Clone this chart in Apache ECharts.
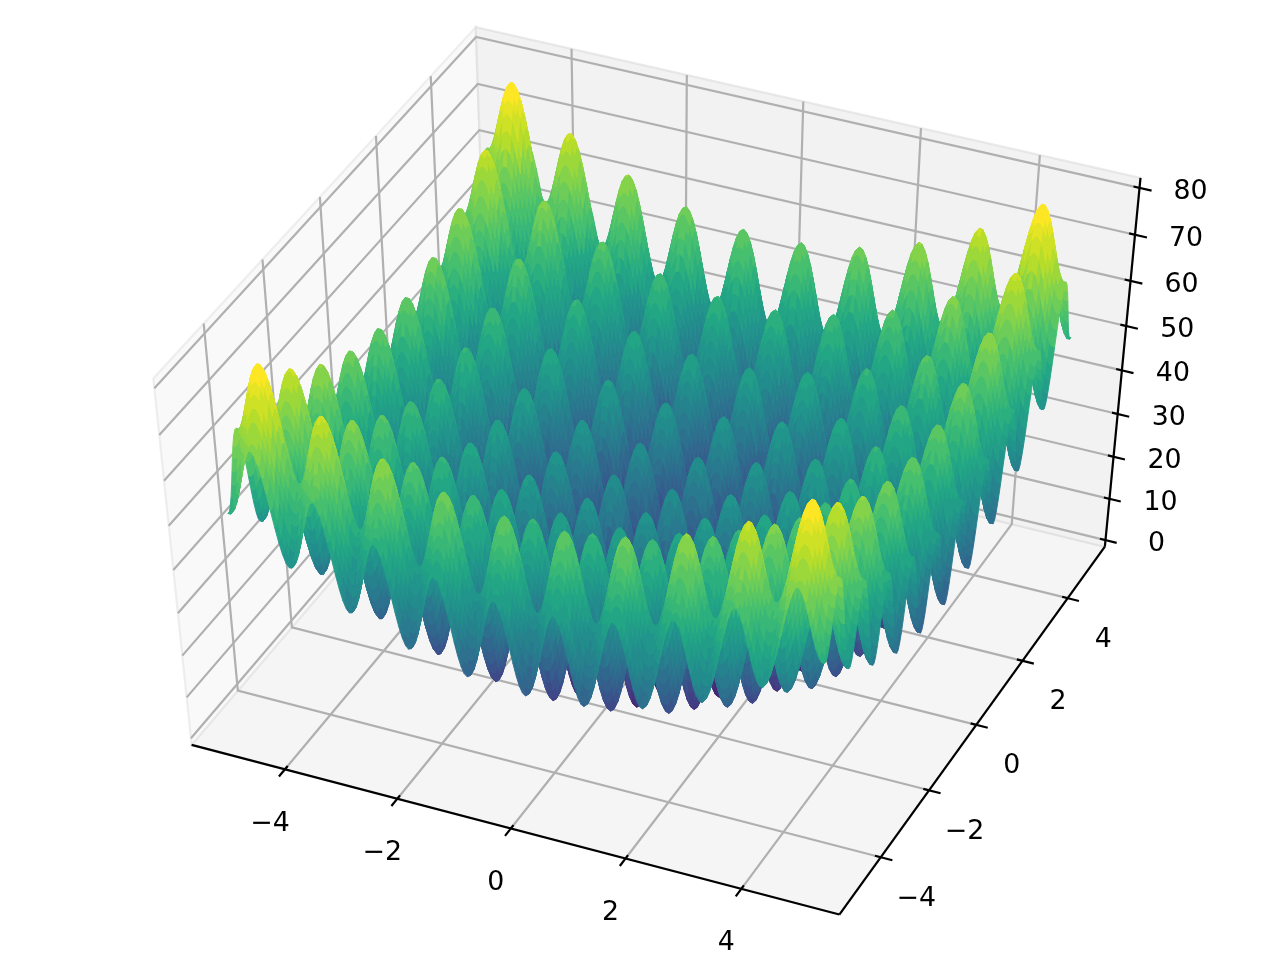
<!DOCTYPE html>
<html><head><meta charset="utf-8">
<style>html,body{margin:0;background:#fff}#c{width:1280px;height:960px}</style>
<script src="https://cdn.jsdelivr.net/npm/echarts@6/dist/echarts.min.js"></script></head>
<body><div id="c"></div>
<script>
const xTicks=[-4,-2,0,2,4], yTicks=[-4,-2,0,2,4], zTicks=[0,10,20,30,40,50,60,70,80];
// height contribution of one coordinate at |x| = 0, 0.05, ... 5.0 (hand-worked table; a surface height is the sum of two entries)
const profile=[0,.49,1.92,4.14,6.95,10.06,13.18,16,18.25,19.71,20.25,19.81,18.45,16.3,13.58,10.56,7.55,4.84,2.72,1.39,1,1.59,3.12,5.44,8.35,11.56,14.78,17.7,20.05,21.61,22.25,21.91,20.65,18.6,15.98,13.06,10.15,7.54,5.52,4.29,4,4.69,6.32,8.74,11.75,15.06,18.38,21.4,23.85,25.51,26.25,26.01,24.85,22.9,20.38,17.56,14.75,12.24,10.32,9.19,9,9.79,11.52,14.04,17.15,20.56,23.98,27.1,29.65,31.41,32.25,32.11,31.05,29.2,26.78,24.06,21.35,18.94,17.12,16.09,16,16.89,18.72,21.34,24.55,28.06,31.58,34.8,37.45,39.31,40.25,40.21,39.25,37.5,35.18,32.56,29.95,27.64,25.92,24.99,25];
const viridis=['#440154','#482475','#414487','#355f8d','#2a788e','#21918c','#22a884','#44bf70','#7ad151','#bddf26','#fde725'];
const colourBands=28;
const view={elev:47.338,azim:-65.975,L:5.677,zlo:-1.617,zhi:82.091,sx:6873.368,sy:5126.387,cx:656.117,cy:467.329,B:1.045,Bz:1.057,dist:10};

const {L,zlo,zhi}=view;
const P=(function(){const {elev,azim,sx,sy,cx,cy,B,Bz,dist}=view;const e=elev*Math.PI/180,a=azim*Math.PI/180;
 const n=[Math.cos(e)*Math.cos(a),Math.cos(e)*Math.sin(a),Math.sin(e)],u=[-Math.sin(a),Math.cos(a),0],v=[-Math.sin(e)*Math.cos(a),-Math.sin(e)*Math.sin(a),Math.cos(e)];
 return (x,y,z)=>{const d=[(x+L)/(2*L)*B-B/2-dist*n[0],(y+L)/(2*L)*B-B/2-dist*n[1],(z-zlo)/(zhi-zlo)*Bz-Bz/2-dist*n[2]];
  const dot=q=>q[0]*d[0]+q[1]*d[1]+q[2]*d[2];const w=-dot(n);return [cx+sx*dot(u)/w,cy-sy*dot(v)/w,w];};})();

const nodes=[];for(let i=-100;i<=100;i++)nodes.push(i/20);
const prof=i=>profile[Math.abs(i-100)];
const H=(i,j)=>prof(i)+prof(j);
const outline=(i,j)=>[[i,j],[i+1,j],[i+1,j+1],[i,j+1]];
const cells=[];let zminC=1e9,zmaxC=-1e9;
for(let i=0;i<200;i++)for(let j=0;j<200;j++){const o=outline(i,j);let m=0,w=0;
 for(const q of o){const h=H(q[0],q[1]);m+=h/4;w+=P(nodes[q[0]],nodes[q[1]],h)[2]/4;}
 cells.push([i,j,m,w]);zminC=Math.min(zminC,m);zmaxC=Math.max(zmaxC,m);}
cells.sort((a,b)=>b[3]-a[3]);

const chart=echarts.init(document.getElementById('c'),null,{renderer:'canvas'});
const font='26.8px "DejaVu Sans"';
const lab=v=>v<0?'\u2212'+(-v):String(v);
const toPx=(api,q)=>{const r=P(q[0],q[1],q[2]);return api.coord([r[0],r[1]]);};
function line3(api,pts,color,lw){return {type:'polyline',shape:{points:pts.map(q=>toPx(api,q))},style:{stroke:color,lineWidth:lw,fill:null}};}
const panes=[[[-L,-L,zlo],[L,-L,zlo],[L,L,zlo],[-L,L,zlo],.9625],[[-L,-L,zlo],[-L,L,zlo],[-L,L,zhi],[-L,-L,zhi],.975],[[-L,L,zlo],[L,L,zlo],[L,L,zhi],[-L,L,zhi],.95]];
chart.setOption({animation:false,
 grid:{left:0,right:0,top:0,bottom:0},
 xAxis:{type:'value',min:0,max:1280,show:false},yAxis:{type:'value',min:0,max:960,inverse:true,show:false},
 visualMap:{type:'piecewise',show:false,seriesIndex:2,dimension:2,min:zminC,max:zmaxC,splitNumber:colourBands,inRange:{color:viridis}},
 series:[
 {type:'custom',coordinateSystem:'cartesian2d',silent:true,z:1,data:panes.map((p,i)=>[i]),clip:false,renderItem:(ps,api)=>{const p=panes[api.value(0)];const g=Math.round(p[4]*255);const c=`rgb(${g},${g},${g})`;
   return {type:'polygon',shape:{points:p.slice(0,4).map(q=>toPx(api,q))},style:{fill:c,stroke:`rgba(${g-26},${g-26},${g-26},.5)`,lineWidth:2.2}};}},
 {type:'custom',coordinateSystem:'cartesian2d',silent:true,z:2,clip:false,data:[...xTicks.map(v=>[0,v]),...yTicks.map(v=>[1,v]),...zTicks.map(v=>[2,v])],renderItem:(ps,api)=>{const k=api.value(0),v=api.value(1);
   const pts=k==0?[[v,-L,zlo],[v,L,zlo],[v,L,zhi]]:k==1?[[L,v,zlo],[-L,v,zlo],[-L,v,zhi]]:[[-L,-L,v],[-L,L,v],[L,L,v]];return line3(api,pts,'#b0b0b0',2.2);}},
 {type:'custom',coordinateSystem:'cartesian2d',silent:true,z:3,clip:false,progressive:0,data:cells,dimensions:['i','j','mean','depth'],encode:{x:0,y:1},renderItem:(ps,api)=>{const i=api.value(0),j=api.value(1),c=api.visual('color');
   const pts=outline(i,j).map(q=>toPx(api,[nodes[q[0]],nodes[q[1]],H(q[0],q[1])]));
   return {type:'polygon',shape:{points:pts},style:{fill:c,stroke:c,lineWidth:.9}};}},
 {type:'custom',coordinateSystem:'cartesian2d',silent:true,z:4,clip:false,data:[[0],[1],[2],...xTicks.map(v=>[3,v]),...yTicks.map(v=>[4,v]),...zTicks.map(v=>[5,v])],renderItem:(ps,api)=>{const k=api.value(0),v=api.value(1);
   if(k==0)return line3(api,[[-L,-L,zlo],[L,-L,zlo]],'#000',2.2);
   if(k==1)return line3(api,[[L,-L,zlo],[L,L,zlo]],'#000',2.2);
   if(k==2)return line3(api,[[L,L,zlo],[L,L,zhi]],'#000',2.2);
   let a,b,o,dx,dy;
   if(k==3){a=[v,-L+.1,zlo];b=[v,-L-.22,zlo];o=P(v,-L,zlo);dx=-15;dy=54.5;}
   if(k==4){a=[L-.1,v,zlo];b=[L+.2,v,zlo];o=P(L,v,zlo);dx=35.5;dy=41.5;}
   if(k==5){a=[L-.1,L,v];b=[L+.2,L,v];o=P(L,L,v);dx=51;dy=4;}
   const c=api.coord([o[0]+dx,o[1]+dy]);
   return {type:'group',children:[line3(api,[a,b],'#000',2.2),{type:'text',x:c[0],y:c[1],style:{text:lab(v),font,fill:'#000',textAlign:'center',textVerticalAlign:'middle'}}]};}}
 ]});
</script></body></html>
